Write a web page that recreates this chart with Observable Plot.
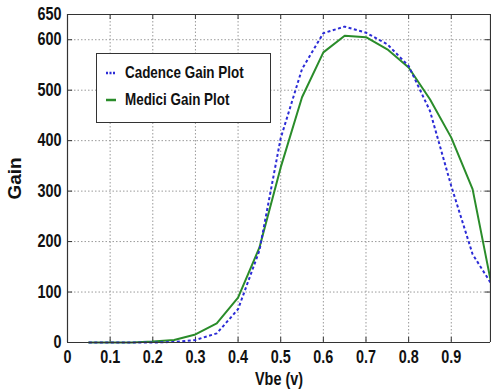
<!DOCTYPE html>
<html>
<head>
<meta charset="utf-8">
<script src="https://cdn.jsdelivr.net/npm/d3@7"></script>
<script src="https://cdn.jsdelivr.net/npm/@observablehq/plot@0.6"></script>
<style>
  html, body { margin: 0; padding: 0; background: #fff; }
  #wrap { position: relative; width: 491px; height: 390px; overflow: hidden; }
  .legend { position: absolute; left: 96px; top: 53px; width: 175px; height: 70px;
    border: 1px solid #333; background: #fff; box-sizing: border-box;
    font-family: "Liberation Sans", Arial, sans-serif; font-weight: bold; font-size: 17px; color: #111; }
  .legend .row { position: absolute; left: 9px; display: flex; align-items: center; white-space: nowrap; }
  .legend svg { margin-right: 9px; }
  .legend span { display: inline-block; transform: scaleX(0.79); transform-origin: left center; }
</style>
</head>
<body>
<div id="wrap"></div>
<script>
const vbe = [0.05, 0.1, 0.15, 0.2, 0.25, 0.3, 0.35, 0.4, 0.45, 0.5, 0.55, 0.6, 0.65, 0.7, 0.75, 0.8, 0.85, 0.9, 0.95, 1.0];
const cadence = [0, 0, 0, 0, 1, 5, 18, 66, 182, 405, 542, 613, 626, 614, 591, 548, 459, 310, 175, 108];
const medici  = [0, 0, 0, 2, 5, 16, 38, 89, 188, 347, 486, 575, 608, 605, 581, 545, 482, 406, 304, 90];
const seriesNames = ["Cadence Gain Plot", "Medici Gain Plot"];
const seriesColors = ["#2b2bd6", "#2a8c2a"];
const xTicks = [0, 0.1, 0.2, 0.3, 0.4, 0.5, 0.6, 0.7, 0.8, 0.9];
const yTicks = [0, 100, 200, 300, 400, 500, 600, 650];
const xGrid = [0.1, 0.2, 0.3, 0.4, 0.5, 0.6, 0.7, 0.8, 0.9];
const yGrid = [100, 200, 300, 400, 500, 600];

const rows = [];
vbe.forEach((v, i) => {
  rows.push({x: v, y: cadence[i], s: seriesNames[0]});
  rows.push({x: v, y: medici[i], s: seriesNames[1]});
});

const xMax = 0.992, yMax = 650;
const font = '"Liberation Sans", Arial, sans-serif';
const xFmt = d => d === 0 ? "0" : d3.format(".1f")(d);

const chart = Plot.plot({
  width: 491,
  height: 390,
  marginLeft: 67,
  marginTop: 14,
  marginBottom: 48,
  marginRight: 1,
  style: {fontFamily: font, fontWeight: "bold", fontSize: "18px", color: "#111", background: "#fff"},
  x: {domain: [0, xMax]},
  y: {domain: [0, yMax]},
  marks: [
    Plot.ruleX(xGrid, {stroke: "#9a9a9a", strokeDasharray: "1.5,2", strokeWidth: 1}),
    Plot.ruleY(yGrid, {stroke: "#9a9a9a", strokeDasharray: "1.5,2", strokeWidth: 1}),
    Plot.ruleX(xGrid, {y1: 0, y2: 10, stroke: "#333"}),
    Plot.ruleX(xGrid, {y1: yMax, y2: yMax - 10, stroke: "#333"}),
    Plot.ruleY(yGrid, {x1: 0, x2: 0.012, stroke: "#333"}),
    Plot.ruleY(yGrid, {x1: xMax, x2: xMax - 0.012, stroke: "#333"}),
    Plot.line(rows.filter(d => d.s === seriesNames[1]), {x: "x", y: "y", stroke: seriesColors[1], strokeWidth: 2}),
    Plot.line(rows.filter(d => d.s === seriesNames[0]), {x: "x", y: "y", stroke: seriesColors[0], strokeWidth: 2, strokeDasharray: "3,2.5", strokeLinecap: "butt"}),
    Plot.ruleY([0], {stroke: "#333", strokeWidth: 1.2}),
    Plot.ruleY([yMax], {stroke: "#333", strokeWidth: 1.2}),
    Plot.ruleX([0], {stroke: "#333", strokeWidth: 1.2}),
    Plot.ruleX([xMax], {stroke: "#333", strokeWidth: 1.2}),
    Plot.axisX({ticks: xTicks, tickFormat: xFmt, tickSize: 0, tickPadding: 8, label: "Vbe (v)", labelAnchor: "center", labelOffset: 42, labelArrow: "none"}),
    Plot.axisY({ticks: yTicks, tickSize: 0, tickPadding: 6, label: "Gain", labelAnchor: "center", labelOffset: 60, labelArrow: "none"})
  ]
});

const wrap = document.getElementById("wrap");
wrap.appendChild(chart);

// squeeze the horizontal bold text to mimic the narrow look of the original
chart.querySelectorAll("text").forEach(t => {
  const tr = t.getAttribute("transform") || "";
  if (tr.includes("rotate")) {
    t.setAttribute("font-size", "19");
    return;
  }
  const len = t.getComputedTextLength();
  if (len > 0) {
    t.setAttribute("textLength", (len * 0.8).toFixed(2));
    t.setAttribute("lengthAdjust", "spacingAndGlyphs");
  }
});

const legend = document.createElement("div");
legend.className = "legend";
seriesNames.forEach((name, i) => {
  const row = document.createElement("div");
  row.className = "row";
  row.style.top = (i === 0 ? 9 : 36) + "px";
  const dash = i === 0 ? 'stroke-dasharray="2,1.5"' : '';
  row.innerHTML = `<svg width="10" height="4"><line x1="0" y1="2" x2="10" y2="2" stroke="${seriesColors[i]}" stroke-width="2.5" ${dash}/></svg><span>${name}</span>`;
  legend.appendChild(row);
});
wrap.appendChild(legend);
</script>
</body>
</html>
